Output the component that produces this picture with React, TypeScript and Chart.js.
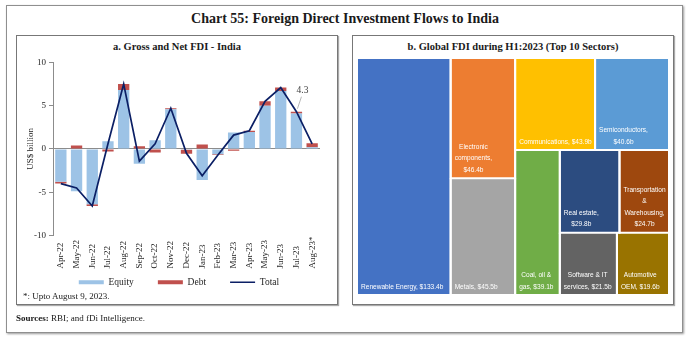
import React, { useEffect, useRef } from "react";
import { Chart, registerables } from "chart.js";

Chart.register(...registerables);

// ---------- Panel a: Gross and Net FDI - India (US$ billion) ----------
const months = [
  "Apr-22", "May-22", "Jun-22", "Jul-22", "Aug-22", "Sep-22", "Oct-22", "Nov-22", "Dec-22",
  "Jan-23", "Feb-23", "Mar-23", "Apr-23", "May-23", "Jun-23", "Jul-23", "Aug-23*",
];
const equity = [-3.8, -4.9, -6.4, 0.9, 6.8, -1.7, 1.0, 4.6, -0.1, -3.6, -0.6, 1.9, 1.95, 5.0, 6.7, 4.1, 0.2];
const debt = [-0.2, 0.4, -0.2, -0.3, 0.7, 0.3, -0.4, 0.1, -0.45, 0.5, -0.1, -0.2, 0.15, 0.5, 0.4, 0.2, 0.45];
const total = [-4.0, -4.5, -6.6, 0.6, 7.5, -1.4, 0.6, 4.7, -0.5, -3.1, -0.7, 1.6, 2.1, 5.5, 7.1, 4.3, 0.6];
const yTicks = [-10, -5, 0, 5, 10];
const labelledMonth = "Jul-23";

// ---------- Panel b: Global FDI during H1:2023 (Top 10 Sectors), US$ billion ----------
const sectors = [
  "Renewable Energy", "Electronic components", "Metals", "Communications", "Semiconductors",
  "Coal, oil & gas", "Real estate", "Transportation & Warehousing", "Software & IT services", "Automotive OEM",
];
const sectorValues = [133.4, 46.4, 45.5, 43.9, 40.6, 39.1, 29.8, 24.7, 21.5, 19.6];
const sectorColors = [
  "#4472C4", "#ED7D31", "#A5A5A5", "#FFC000", "#5B9BD5",
  "#70AD47", "#2C4C80", "#9E480E", "#636363", "#997300",
];

// slice-and-dice structure of the treemap (indices into the sector arrays)
type TNode = number | { dir: "row" | "col"; kids: TNode[] };
const treeShape: TNode = {
  dir: "row",
  kids: [
    0,
    { dir: "col", kids: [1, 2] },
    {
      dir: "col",
      kids: [
        { dir: "row", kids: [3, 4] },
        {
          dir: "row",
          kids: [
            5,
            { dir: "col", kids: [{ dir: "row", kids: [6, 7] }, { dir: "row", kids: [8, 9] }] },
          ],
        },
      ],
    },
  ],
};

const SERIF = "'Liberation Serif', 'Times New Roman', serif";
const SANS = "'Liberation Sans', Arial, sans-serif";

type Rect = { x0: number; x1: number; y0: number; y1: number };

function nodeSum(n: TNode): number {
  if (typeof n === "number") return sectorValues[n];
  return n.kids.reduce((s, k) => s + nodeSum(k), 0);
}

function place(n: TNode, x: number, y: number, w: number, h: number, out: Rect[]) {
  if (typeof n === "number") {
    out[n] = { x0: x, x1: x + w, y0: y, y1: y + h };
    return;
  }
  const s = nodeSum(n);
  let off = 0;
  for (const k of n.kids) {
    const f = nodeSum(k) / s;
    if (n.dir === "row") place(k, x + off * w, y, f * w, h, out);
    else place(k, x, y + off * h, w, f * h, out);
    off += f;
  }
}

const totalLabelPlugin = {
  id: "totalLabel",
  afterDatasetsDraw(chart: any) {
    const i = months.indexOf(labelledMonth);
    const meta = chart.getDatasetMeta(2);
    const pt = meta.data[i];
    if (!pt) return;
    const ctx = chart.ctx;
    ctx.save();
    ctx.strokeStyle = "#a6a6a6";
    ctx.lineWidth = 0.8;
    ctx.beginPath();
    ctx.moveTo(pt.x + 5, pt.y - 15);
    ctx.lineTo(pt.x + 1, pt.y - 3);
    ctx.stroke();
    ctx.fillStyle = "#404040";
    ctx.font = `9.5px ${SERIF}`;
    ctx.textAlign = "center";
    ctx.textBaseline = "middle";
    ctx.fillText(total[i].toFixed(1), pt.x + 6, pt.y - 21);
    ctx.restore();
  },
};

// category labels, rotated and aligned at their start (bottom), as in the original
const xLabelPlugin = {
  id: "xLabels",
  afterDraw(chart: any) {
    const xs = chart.scales.x;
    const ctx = chart.ctx;
    const y0 = chart.chartArea.bottom + 33;
    ctx.save();
    ctx.font = `9px ${SERIF}`;
    ctx.fillStyle = "#262626";
    ctx.textAlign = "left";
    ctx.textBaseline = "middle";
    months.forEach((m, i) => {
      const x = xs.getPixelForValue(i);
      ctx.save();
      ctx.translate(x, y0);
      ctx.rotate(-Math.PI / 2);
      ctx.fillText(m, 0, 0);
      ctx.restore();
    });
    ctx.restore();
  },
};

const legendShiftPlugin = {
  id: "legendShift",
  afterLayout(chart: any) {
    const lg = chart.legend;
    if (lg) {
      lg.left += 11;
      lg.right += 11;
    }
  },
};

const treemapLabelPlugin = {
  id: "treemapLabels",
  afterDatasetsDraw(chart: any) {
    const ctx = chart.ctx;
    const xs = chart.scales.x;
    const ys = chart.scales.y;
    const rects: Rect[] = [];
    place(treeShape, 0, 0, 1, 1, rects);
    const sx = 0.82;
    ctx.save();
    ctx.font = `8px ${SANS}`;
    ctx.fillStyle = "#ffffff";
    ctx.textAlign = "center";
    ctx.textBaseline = "middle";
    const meas = (t: string) => ctx.measureText(t).width * sx;
    rects.forEach((r, i) => {
      const left = xs.getPixelForValue(r.x0);
      const right = xs.getPixelForValue(r.x1);
      const bottom = ys.getPixelForValue(r.y1);
      const maxW = right - left - 7;
      const text = `${sectors[i]}, $${sectorValues[i].toFixed(1)}b`;
      const words = text.split(" ");
      const lines: string[] = [];
      let cur = "";
      for (const w of words) {
        const trial = cur ? cur + " " + w : w;
        if (cur && meas(trial) > maxW) {
          lines.push(cur);
          cur = w;
        } else cur = trial;
      }
      if (cur) lines.push(cur);
      const blockW = Math.max(...lines.map(meas));
      const cx = left + 4 + blockW / 2;
      const n = lines.length;
      lines.forEach((ln, j) => {
        const y = bottom - 8.5 - (n - 1 - j) * 11.5;
        ctx.save();
        ctx.translate(cx, y);
        ctx.scale(sx, 1);
        ctx.fillText(ln, 0, 0);
        ctx.restore();
      });
    });
    ctx.restore();
  },
};

export default function App() {
  const leftRef = useRef<HTMLCanvasElement>(null);
  const rightRef = useRef<HTMLCanvasElement>(null);

  useEffect(() => {
    const tickFont = { family: SERIF, size: 9 };
    const c1 = new Chart(leftRef.current as HTMLCanvasElement, {
      type: "bar",
      data: {
        labels: months,
        datasets: [
          {
            type: "bar",
            label: "Equity",
            data: equity,
            backgroundColor: "#9DC3E6",
            stack: "fdi",
            barPercentage: 0.72,
            categoryPercentage: 1,
            order: 1,
          },
          {
            type: "bar",
            label: "Debt",
            data: debt,
            backgroundColor: "#C0504D",
            stack: "fdi",
            barPercentage: 0.72,
            categoryPercentage: 1,
            order: 1,
          },
          {
            type: "line",
            label: "Total",
            data: total,
            borderColor: "#0B1F65",
            backgroundColor: "#0B1F65",
            borderWidth: 1.7,
            pointRadius: 0,
            tension: 0,
            fill: false,
            stack: "total",
            order: 0,
          } as any,
        ],
      },
      options: {
        responsive: false,
        animation: false,
        layout: { padding: { top: 8, left: 0, right: 18, bottom: 0 } },
        scales: {
          x: {
            stacked: true,
            grid: { display: false, drawTicks: false },
            border: { display: false },
            ticks: { display: false },
            afterFit: (s: any) => {
              s.height = 18;
            },
          },
          y: {
            stacked: true,
            min: yTicks[0],
            max: yTicks[yTicks.length - 1],
            afterBuildTicks: (s: any) => {
              s.ticks = yTicks.map((v) => ({ value: v }));
            },
            ticks: { font: tickFont, color: "#262626", padding: 3 },
            grid: {
              color: (c: any) => (c.tick && c.tick.value === 0 ? "#8c8c8c" : "rgba(0,0,0,0)"),
              tickColor: "#8c8c8c",
              tickLength: 4,
              lineWidth: 1,
            },
            border: { color: "#8c8c8c" },
            title: {
              display: true,
              text: "US$ billion",
              font: { family: SERIF, size: 9 },
              color: "#262626",
              padding: { top: 9, bottom: 0 },
            },
            afterFit: (s: any) => {
              s.width = 37;
            },
          },
        },
        plugins: {
          tooltip: { enabled: false },
          legend: {
            position: "bottom",
            labels: {
              usePointStyle: true,
              pointStyleWidth: 25,
              boxHeight: 4,
              padding: 24,
              color: "#262626",
              font: { family: SERIF, size: 9.5 },
              generateLabels: (chart: any) =>
                chart.data.datasets.map((ds: any, i: number) => ({
                  text: ds.label,
                  datasetIndex: i,
                  fillStyle: ds.type === "line" ? ds.borderColor : ds.backgroundColor,
                  strokeStyle: ds.type === "line" ? ds.borderColor : ds.backgroundColor,
                  lineWidth: ds.type === "line" ? 1.5 : 0,
                  pointStyle: ds.type === "line" ? "line" : "rect",
                  fontColor: "#262626",
                  hidden: false,
                })),
            },
          },
        },
      } as any,
      plugins: [totalLabelPlugin, xLabelPlugin, legendShiftPlugin],
    });

    const rects: Rect[] = [];
    place(treeShape, 0, 0, 1, 1, rects);
    const c2 = new Chart(rightRef.current as HTMLCanvasElement, {
      type: "line",
      data: {
        datasets: rects.map((r, i) => ({
          label: sectors[i],
          data: [
            { x: r.x0, y: r.y0 },
            { x: r.x0, y: r.y1 },
            { x: r.x1, y: r.y1 },
            { x: r.x1, y: r.y0 },
          ],
          backgroundColor: sectorColors[i],
          borderColor: "#ffffff",
          borderWidth: 2,
          fill: "shape",
          pointRadius: 0,
          tension: 0,
        })),
      },
      options: {
        responsive: false,
        animation: false,
        layout: { padding: 0 },
        scales: {
          x: { type: "linear", min: 0, max: 1, display: false },
          y: { type: "linear", min: 0, max: 1, reverse: true, display: false },
        },
        plugins: {
          legend: { display: false },
          tooltip: { enabled: false },
          filler: { drawTime: "beforeDatasetsDraw" },
        },
      } as any,
      plugins: [treemapLabelPlugin],
    });

    return () => {
      c1.destroy();
      c2.destroy();
    };
  }, []);

  const abs = (o: any) => ({ position: "absolute" as const, boxSizing: "border-box" as const, ...o });

  return (
    <div style={abs({ left: 0, top: 0, width: 690, height: 341, background: "#fff", fontFamily: SERIF, color: "#1a1a1a" })}>
      <div style={abs({ left: 6, top: 5, width: 677, height: 328, border: "1px solid #8f8f8f", boxShadow: "1px 1px 2px #9a9a9a" })} />
      <div style={abs({ left: 0, top: 9, width: 690, textAlign: "center", fontWeight: "bold", fontSize: 14, lineHeight: "20px" })}>
        Chart 55: Foreign Direct Investment Flows to India
      </div>

      <div style={abs({ left: 16, top: 35, width: 322, height: 270, border: "1px solid #777", boxShadow: "1px 1px 1px #aaa" })} />
      <div style={abs({ left: 16, top: 40, width: 322, textAlign: "center", fontWeight: "bold", fontSize: 10.5, lineHeight: "14px" })}>
        a. Gross and Net FDI - India
      </div>
      <canvas ref={leftRef} width={322} height={243} style={abs({ left: 16, top: 54, width: 322, height: 243 })} />
      <div style={abs({ left: 23, top: 290, fontSize: 9, lineHeight: "12px", whiteSpace: "nowrap" })}>*: Upto August 9, 2023.</div>

      <div style={abs({ left: 352, top: 35, width: 322, height: 270, border: "1px solid #777", boxShadow: "1px 1px 1px #aaa" })} />
      <div style={abs({ left: 352, top: 40, width: 322, textAlign: "center", fontWeight: "bold", fontSize: 10.5, lineHeight: "14px" })}>
        b. Global FDI during H1:2023 (Top 10 Sectors)
      </div>
      <canvas ref={rightRef} width={312} height={236} style={abs({ left: 357, top: 59, width: 312, height: 236 })} />

      <div style={abs({ left: 16, top: 312, fontSize: 9, lineHeight: "12px", whiteSpace: "nowrap" })}>
        <b>Sources:</b> RBI; and fDi Intelligence.
      </div>
    </div>
  );
}
